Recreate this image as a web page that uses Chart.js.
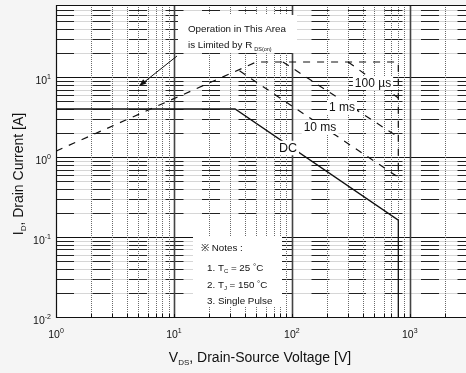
<!DOCTYPE html>
<html>
<head>
<meta charset="utf-8">
<script src="https://cdn.jsdelivr.net/npm/chart.js@4.4.0/dist/chart.umd.min.js"></script>
<style>
  html, body { margin: 0; padding: 0; background: #f5f5f5; }
  #wrap { width: 466px; height: 373px; }
</style>
</head>
<body>
<div id="wrap"><canvas id="soa" width="466" height="373"></canvas></div>
<script>
// axis ranges + tick labels (10^n)
const xRange = [1, 3000];
const yRange = [0.01, 80];
const xTicks = [1, 10, 100, 1000];
const xTickExp = ['0', '1', '2', '3'];
const yTicks = [0.01, 0.1, 1, 10];
const yTickExp = ['-2', '-1', '0', '1'];

// SOA curves : V_DS [V] / I_D [A]
const limitV = [1, 50, 800, 800];
const limitI = [1.19, 15.5, 15.5, 0.56];
const us100V = [300, 800];
const us100I = [15.5, 5.5];
const ms1V = [84, 800];
const ms1I = [15.5, 1.78];
const ms10V = [36, 800];
const ms10I = [12, 0.56];
const dcV = [1, 33, 800, 800];
const dcI = [4, 4, 0.163, 0.01];

const FONT = "'Liberation Sans', Arial, sans-serif";

function pts(vs, is) {
    return vs.map((v, k) => ({ x: v, y: is[k] }));
}

function minors(lo, hi) {
    const out = [];
    for (let e = Math.floor(Math.log10(lo)); e <= Math.ceil(Math.log10(hi)); e++) {
        for (let m = 1; m <= 9; m++) {
            const v = m * Math.pow(10, e);
            if (v > lo * 1.0001 && v < hi * 0.9999) out.push({ v: v, major: m === 1 });
        }
    }
    return out;
}

// text with sub/superscript pieces: [text, size, dy]
function rich(ctx, parts, x, y, align) {
    let w = 0;
    parts.forEach(p => { ctx.font = p[1] + 'px ' + FONT; w += ctx.measureText(p[0]).width; });
    let cx = align === 'center' ? x - w / 2 : (align === 'right' ? x - w : x);
    ctx.textAlign = 'left';
    ctx.textBaseline = 'alphabetic';
    parts.forEach(p => {
        ctx.font = p[1] + 'px ' + FONT;
        ctx.fillText(p[0], cx, y + (p[2] || 0));
        cx += ctx.measureText(p[0]).width;
    });
    return w;
}

function labelBox(ctx, text, x, y, size) {
    ctx.font = size + 'px ' + FONT;
    const w = ctx.measureText(text).width;
    ctx.fillStyle = '#fff';
    ctx.fillRect(x - w / 2 - 2, y - size / 2 - 1, w + 4, size + 2);
    ctx.fillStyle = '#111';
    ctx.textAlign = 'center';
    ctx.textBaseline = 'middle';
    ctx.fillText(text, x, y + 1);
}

const gridPlugin = {
    id: 'soaGrid',
    beforeDatasetsDraw(chart) {
        const ctx = chart.ctx;
        const a = chart.chartArea;
        const xs = chart.scales.x, ys = chart.scales.y;
        ctx.save();
        ctx.fillStyle = '#f5f5f5';
        ctx.fillRect(0, 0, chart.width, chart.height);
        ctx.fillStyle = '#fff';
        ctx.fillRect(a.left, a.top, a.right - a.left, a.bottom - a.top);

        // horizontal lines
        minors(yRange[0], yRange[1]).forEach(t => {
            const y = Math.round(ys.getPixelForValue(t.v)) + 0.5;
            ctx.setLineDash([]);
            if (t.major) {
                ctx.strokeStyle = '#111';
                ctx.lineWidth = 1;
                ctx.beginPath(); ctx.moveTo(a.left, y); ctx.lineTo(a.right, y); ctx.stroke();
                return;
            }
            ctx.strokeStyle = '#d6d6d6';
            ctx.lineWidth = 1;
            ctx.beginPath(); ctx.moveTo(a.left, y); ctx.lineTo(a.right, y); ctx.stroke();
            ctx.strokeStyle = '#222';
            ctx.setLineDash([18, 18.5]);
            ctx.beginPath(); ctx.moveTo(a.left, y); ctx.lineTo(a.right, y); ctx.stroke();
        });

        // vertical lines
        minors(xRange[0], xRange[1]).forEach(t => {
            const x = Math.round(xs.getPixelForValue(t.v)) + 0.5;
            if (t.major) {
                ctx.setLineDash([]);
                ctx.strokeStyle = '#444';
                ctx.lineWidth = 1.6;
            } else {
                ctx.setLineDash([1, 1]);
                ctx.strokeStyle = '#6a6a6a';
                ctx.lineWidth = 1;
            }
            ctx.beginPath(); ctx.moveTo(x, a.top); ctx.lineTo(x, a.bottom); ctx.stroke();
            ctx.setLineDash([]);
            ctx.strokeStyle = '#111';
            ctx.lineWidth = 1;
            ctx.beginPath(); ctx.moveTo(x, a.bottom); ctx.lineTo(x, a.bottom - 3); ctx.stroke();
        });

        // frame (left, top, bottom)
        ctx.setLineDash([]);
        ctx.strokeStyle = '#111';
        ctx.lineWidth = 1.2;
        ctx.beginPath();
        ctx.moveTo(a.right, a.top + 0.5);
        ctx.lineTo(a.left + 0.5, a.top + 0.5);
        ctx.lineTo(a.left + 0.5, a.bottom + 0.5);
        ctx.lineTo(a.right, a.bottom + 0.5);
        ctx.stroke();

        // annotation boxes
        ctx.fillStyle = '#fff';
        ctx.fillRect(178, 15, 119, 38);
        ctx.fillRect(193, 237, 89, 70);
        ctx.restore();
    },
    afterDatasetsDraw(chart) {
        const ctx = chart.ctx;
        const a = chart.chartArea;
        const xs = chart.scales.x, ys = chart.scales.y;
        ctx.save();
        ctx.fillStyle = '#111';

        // curve labels
        labelBox(ctx, '100 \u00b5s', 373, 83, 12);
        labelBox(ctx, '1 ms', 342, 107, 12);
        labelBox(ctx, '10 ms', 320, 127, 12);
        labelBox(ctx, 'DC', 288, 148, 12.5);

        // R_DS(on) note + arrow
        ctx.fillStyle = '#111';
        rich(ctx, [['Operation in This Area', 9.8]], 188, 32, 'left');
        const w = rich(ctx, [['is Limited by R', 9.8]], 188, 48, 'left');
        rich(ctx, [['DS(on)', 5.5]], 188 + w + 2, 51, 'left');
        ctx.strokeStyle = '#111';
        ctx.lineWidth = 1;
        ctx.beginPath(); ctx.moveTo(177, 56); ctx.lineTo(143, 83); ctx.stroke();
        const ang = Math.atan2(83 - 56, 143 - 177);
        ctx.beginPath();
        ctx.moveTo(139, 86);
        ctx.lineTo(139 - 8 * Math.cos(ang - 0.35), 86 - 8 * Math.sin(ang - 0.35));
        ctx.lineTo(139 - 8 * Math.cos(ang + 0.35), 86 - 8 * Math.sin(ang + 0.35));
        ctx.closePath();
        ctx.fill();

        // notes
        rich(ctx, [['\u203b Notes :', 9.8]], 201, 251, 'left');
        rich(ctx, [['1. T', 9.8], ['C', 6, 2], [' = 25 ', 9.8], ['\u00b0', 8, -2], ['C', 9.8]], 207, 271, 'left');
        rich(ctx, [['2. T', 9.8], ['J', 6, 2], [' = 150 ', 9.8], ['\u00b0', 8, -2], ['C', 9.8]], 207, 288, 'left');
        rich(ctx, [['3. Single Pulse', 9.8]], 207, 304, 'left');

        // tick labels
        xTicks.forEach((v, k) => {
            rich(ctx, [['10', 10.5], [xTickExp[k], 7, -5]], xs.getPixelForValue(v), a.bottom + 21, 'center');
        });
        yTicks.forEach((v, k) => {
            rich(ctx, [['10', 10.5], [yTickExp[k], 7, -5]], 51, ys.getPixelForValue(v) + 7, 'right');
        });

        // axis titles
        rich(ctx, [['V', 14], ['DS', 8, 3], [', Drain-Source Voltage [V]', 14]], 260, 362, 'center');
        ctx.translate(23, 174);
        ctx.rotate(-Math.PI / 2);
        rich(ctx, [['I', 14], ['D', 8, 3], [', Drain Current [A]', 14]], 0, 0, 'center');
        ctx.restore();
    }
};

const dashed = { borderColor: '#111', borderWidth: 1.2, borderDash: [7, 7], pointRadius: 0, fill: false, tension: 0 };

new Chart(document.getElementById('soa'), {
    type: 'scatter',
    data: {
        datasets: [
            Object.assign({ label: 'Limit', data: pts(limitV, limitI) }, dashed, { showLine: true }),
            Object.assign({ label: '100 us', data: pts(us100V, us100I) }, dashed, { showLine: true }),
            Object.assign({ label: '1 ms', data: pts(ms1V, ms1I) }, dashed, { showLine: true }),
            Object.assign({ label: '10 ms', data: pts(ms10V, ms10I) }, dashed, { showLine: true }),
            { label: 'DC', data: pts(dcV, dcI), showLine: true, borderColor: '#111', borderWidth: 1.3, pointRadius: 0, fill: false }
        ]
    },
    options: {
        responsive: false,
        animation: false,
        devicePixelRatio: 1,
        layout: { padding: { left: 56, top: 5, right: 0, bottom: 56 } },
        plugins: { legend: { display: false }, tooltip: { enabled: false } },
        scales: {
            x: { type: 'logarithmic', min: xRange[0], max: xRange[1], display: false },
            y: { type: 'logarithmic', min: yRange[0], max: yRange[1], display: false }
        }
    },
    plugins: [gridPlugin]
});
</script>
</body>
</html>
